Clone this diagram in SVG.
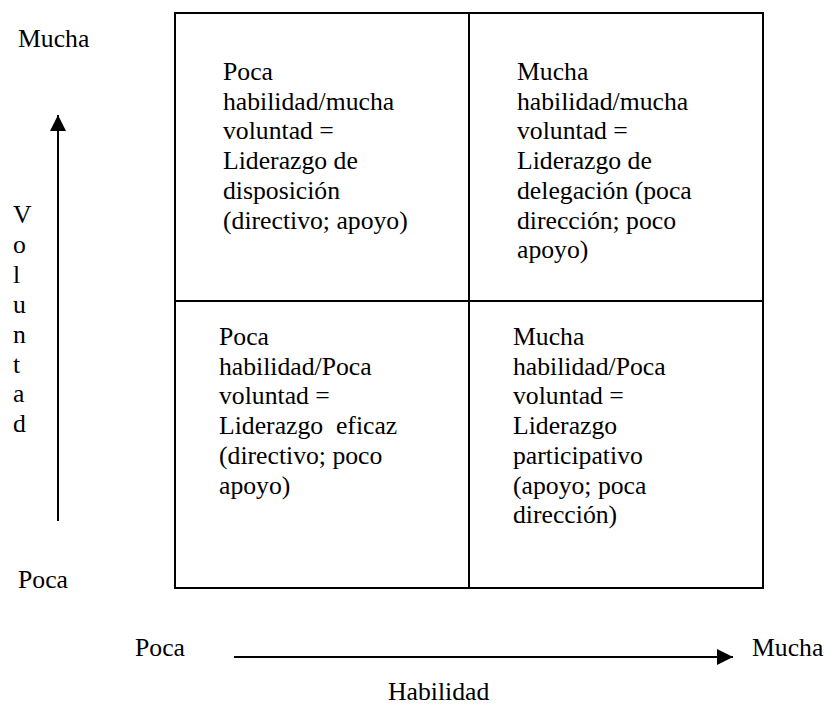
<svg xmlns="http://www.w3.org/2000/svg" width="825" height="706" viewBox="0 0 825 706">
<style>
text { font-family: "Liberation Serif", "Times New Roman", serif; font-size: 25.7px; fill: #000; }
.ln { stroke: #000; stroke-width: 2; fill: none; }
</style>
<defs>
<marker id="ah" viewBox="0 0 16 16" refX="16" refY="8" markerWidth="16" markerHeight="16" markerUnits="userSpaceOnUse" orient="auto">
<path d="M0,0 L16,8 L0,16 Z" fill="#000"/>
</marker>
</defs>
<rect width="825" height="706" fill="#fff"/>
<g id="grid">
<rect class="ln" x="175" y="13" width="588" height="575"/>
<line class="ln" x1="469" y1="13" x2="469" y2="588"/>
<line class="ln" x1="175" y1="301" x2="763" y2="301"/>
</g>
<g id="q-top-left">
<text x="223" y="80">Poca</text>
<text x="223" y="109.7">habilidad/mucha</text>
<text x="223" y="139.4">voluntad =</text>
<text x="223" y="169.1">Liderazgo de</text>
<text x="223" y="198.8">disposición</text>
<text x="223" y="228.5">(directivo; apoyo)</text>
</g>
<g id="q-top-right">
<text x="517" y="80">Mucha</text>
<text x="517" y="109.7">habilidad/mucha</text>
<text x="517" y="139.4">voluntad =</text>
<text x="517" y="169.1">Liderazgo de</text>
<text x="517" y="198.8">delegación (poca</text>
<text x="517" y="228.5">dirección; poco</text>
<text x="517" y="258.2">apoyo)</text>
</g>
<g id="q-bottom-left">
<text x="219" y="345">Poca</text>
<text x="219" y="374.7">habilidad/Poca</text>
<text x="219" y="404.4">voluntad =</text>
<text x="219" y="434.1" xml:space="preserve">Liderazgo  eficaz</text>
<text x="219" y="463.8">(directivo; poco</text>
<text x="219" y="493.5">apoyo)</text>
</g>
<g id="q-bottom-right">
<text x="513" y="345">Mucha</text>
<text x="513" y="374.7">habilidad/Poca</text>
<text x="513" y="404.4">voluntad =</text>
<text x="513" y="434.1">Liderazgo</text>
<text x="513" y="463.8">participativo</text>
<text x="513" y="493.5">(apoyo; poca</text>
<text x="513" y="523.2">dirección)</text>
</g>
<g id="axis-labels">
<text x="18" y="47">Mucha</text>
<text x="18" y="588">Poca</text>
<text x="135" y="656">Poca</text>
<text x="752" y="656">Mucha</text>
<text x="388" y="700">Habilidad</text>
<text x="13" y="223">V</text>
<text x="13" y="252.9">o</text>
<text x="13" y="282.8">l</text>
<text x="13" y="312.7">u</text>
<text x="13" y="342.6">n</text>
<text x="13" y="372.5">t</text>
<text x="13" y="402.4">a</text>
<text x="13" y="432.3">d</text>
</g>
<g id="connectors">
<line class="ln" x1="58" y1="521" x2="58" y2="115" marker-end="url(#ah)"/>
<line class="ln" x1="234" y1="657" x2="733" y2="657" marker-end="url(#ah)"/>
</g>
</svg>
